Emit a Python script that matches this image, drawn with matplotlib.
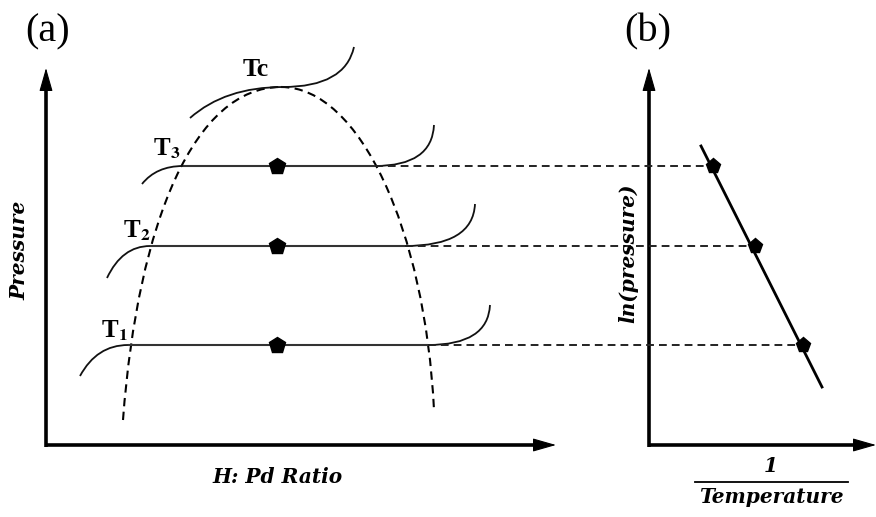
import matplotlib
matplotlib.use("Agg")
import matplotlib.pyplot as plt
from matplotlib.path import Path
from matplotlib.patches import PathPatch

plt.rcParams['mathtext.fontset'] = 'stix'

# ---- diagram data (drawing units: pixels of the original schematic, y downwards) ----
# panel (a) axes
a_origin = (46, 445)
a_ytip = 68
a_xtip = 556
# panel (b) axes
b_origin = (649, 445)
b_ytip = 68
b_xtip = 876

# miscibility dome (dashed): left half and right half as cubic Bezier control points
dome_left_x = [123, 138, 195, 281]
dome_left_y = [420, 220, 87, 87]
dome_right_x = [281, 360, 425, 434]
dome_right_y = [87, 87, 230, 410]

# isotherms
iso_names = ['T$_{\\mathbf{1}}$', 'T$_{\\mathbf{2}}$', 'T$_{\\mathbf{3}}$']
iso_level = [345, 246, 166]          # plateau pressure
iso_left_start_x = [80, 107, 142]
iso_left_start_y = [376, 278, 184]
iso_plateau_left = [128, 150, 183]
iso_plateau_right = [428, 405, 375]
iso_right_tip_x = [490, 475, 434]
iso_right_tip_y = [305, 204, 125]
iso_label_x = [101, 123, 153]
iso_label_y = [331, 231, 149]

# critical isotherm Tc
tc_x = [190, 225, 283, 345, 354]
tc_y = [118, 87, 87, 87, 47]

# plateau markers (mid-plateau)
marker_x = 277

# panel (b): ln(p) vs 1/T
vh_line_x = [701, 822]
vh_line_y = [146, 387]
vh_points_x = [803, 755, 713]
vh_points_y = [345, 246, 166]

fig = plt.figure(figsize=(8.76, 5.17), dpi=100)
ax = fig.add_axes([0, 0, 1, 1])
ax.set_xlim(0, 876)
ax.set_ylim(517, 0)
ax.axis('off')

K = 'black'
HEAD = 16  # arrow head length (drawing units)

def arrow(x0, y0, x1, y1):
    # shaft
    if x0 == x1:
        sx, sy = x1, y1 + HEAD * (1 if y1 < y0 else -1)
    else:
        sx, sy = x1 - HEAD * (1 if x1 > x0 else -1), y1
    ax.plot([x0, sx], [y0, sy], color=K, lw=2.6, solid_capstyle='butt')
    # head
    bx = x1 if x0 == x1 else x1 - (HEAD + 4) * (1 if x1 > x0 else -1)
    by = y1 + (HEAD + 4) if x0 == x1 else y1
    ax.annotate('', xy=(x1, y1), xytext=(bx, by),
                arrowprops=dict(arrowstyle='-|>,head_length=1.05,head_width=0.3',
                                lw=0.8, color=K, shrinkA=0, shrinkB=0,
                                mutation_scale=14))

def bezier(xs, ys, **kw):
    n = len(xs)
    if n == 3:
        codes = [Path.MOVETO, Path.CURVE3, Path.CURVE3]
    elif n == 4:
        codes = [Path.MOVETO, Path.CURVE4, Path.CURVE4, Path.CURVE4]
    elif n == 5:
        codes = [Path.MOVETO, Path.CURVE3, Path.CURVE3, Path.CURVE3, Path.CURVE3]
    p = Path(list(zip(xs, ys)), codes)
    ax.add_patch(PathPatch(p, fill=False, **kw))

# axes of (a)
arrow(a_origin[0], a_origin[1] + 1.5, a_origin[0], a_ytip)
arrow(a_origin[0] - 1.5, a_origin[1], a_xtip, a_origin[1])
# axes of (b)
arrow(b_origin[0], b_origin[1] + 1.5, b_origin[0], b_ytip)
arrow(b_origin[0] - 1.5, b_origin[1], b_xtip, b_origin[1])

# dome
dash_kw = dict(color=K, lw=1.5, linestyle=(0, (4, 2.6)))
bezier(dome_left_x, dome_left_y, **dash_kw)
bezier(dome_right_x, dome_right_y, **dash_kw)

# isotherms
solid_kw = dict(color='#111111', lw=1.3)
for i in range(3):
    lv = iso_level[i]
    sx, sy = iso_left_start_x[i], iso_left_start_y[i]
    pl, pr = iso_plateau_left[i], iso_plateau_right[i]
    tx, ty = iso_right_tip_x[i], iso_right_tip_y[i]
    bezier([sx, sx + 0.35 * (pl - sx), pl], [sy, lv, lv], **solid_kw)
    ax.plot([pl, pr], [lv, lv], color='#333333', lw=1.5, solid_capstyle='butt')
    bezier([pr, tx - 2, tx], [lv, lv, ty], **solid_kw)
    # dashed projection to panel (b)
    ax.plot([pr, vh_points_x[i]], [lv, lv], color='#222222', lw=1.4,
            linestyle=(0, (4, 2.6)))
    ax.plot([marker_x], [lv], marker='p', ms=12, color=K, zorder=5)
    ax.text(iso_label_x[i], iso_label_y[i], iso_names[i], fontsize=18,
            fontfamily='Liberation Serif', fontweight='bold', ha='left', va='center')

bezier(tc_x, tc_y, **solid_kw)
ax.text(256, 70, 'Tc', fontsize=18.5, fontfamily='Liberation Serif',
        fontweight='bold', ha='center', va='center')

# panel (b)
ax.plot(vh_line_x, vh_line_y, color=K, lw=2.0)
ax.plot(vh_points_x, vh_points_y, 'p', ms=11, color=K, zorder=5)

# labels
lab_kw = dict(fontfamily='DejaVu Serif', fontweight='bold', fontstyle='italic',
              fontsize=14.5)
ax.text(19, 250, 'Pressure', rotation=90, ha='center', va='center', **lab_kw)
ax.text(278, 477, 'H: Pd Ratio', ha='center', va='center', **lab_kw)
ax.text(628, 253, 'ln(pressure)', rotation=90, ha='center', va='center', **lab_kw)
ax.text(771, 466, '1', ha='center', va='center', **lab_kw)
ax.plot([695, 848], [482, 482], color=K, lw=1.3)
ax.text(771, 497, 'Temperature', ha='center', va='center', **lab_kw)

ax.text(48, 32, '(a)', fontsize=29, fontfamily='Liberation Serif', ha='center', va='center')
ax.text(648, 32, '(b)', fontsize=29, fontfamily='Liberation Serif', ha='center', va='center')

fig.savefig('out.png', dpi=100)
